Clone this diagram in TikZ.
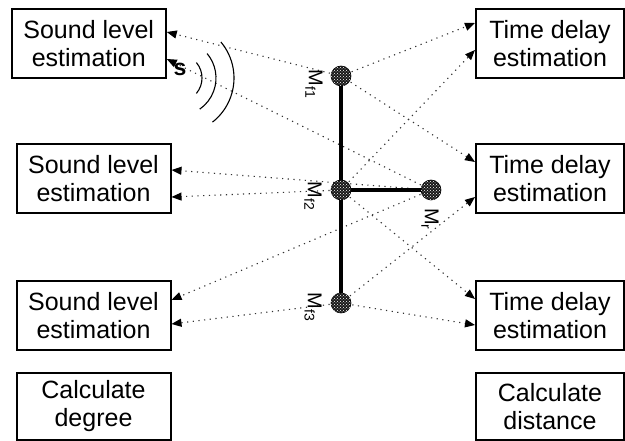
\documentclass[tikz,border=0pt]{standalone}
\usepackage{fontspec}
\setmainfont{Liberation Sans}
\usetikzlibrary{arrows.meta,patterns}
\begin{document}
\begin{tikzpicture}[x=1pt,y=-1pt,
  box/.style={draw,line width=2pt,minimum height=69pt,inner sep=0pt,align=center,
    font=\fontsize{25}{28}\selectfont},
  lbox/.style={box,minimum width=154pt},
  rbox/.style={box,minimum width=148pt},
  mic/.style={circle,draw,line width=0.6pt,minimum size=20pt,inner sep=0pt,fill=black!90,
    postaction={pattern=crosshatch dots,pattern color=white}},
  sig/.style={draw=black!80,line width=1.1pt,dash pattern=on 1.2pt off 4.5pt,
    -{Triangle[length=10pt,width=8pt,black]}},
  bar/.style={line width=4.5pt},
  wave/.style={line width=1.1pt},
  miclabel/.style={rotate=-90,inner sep=0pt,font=\fontsize{20}{20}\selectfont}
]
\useasboundingbox (0,0) rectangle (625,441);
% boxes
\node[lbox] (sl1) at (88.75,43.5) {Sound level\\estimation};
\node[lbox] (sl2) at (93.5,179) {Sound level\\estimation};
\node[lbox] (sl3) at (93.5,316) {Sound level\\estimation};
\node[lbox,minimum height=66pt] (cdeg) at (93.5,406.5) {Calculate\\degree};
\node[rbox] (td1) at (550,43.5) {Time delay\\estimation};
\node[rbox] (td2) at (550,179) {Time delay\\estimation};
\node[rbox] (td3) at (550,316) {Time delay\\estimation};
\node[rbox,minimum height=66pt] (cdist) at (550,406.5) {Calculate\\distance};
% microphones (positions)
\coordinate (mf1c) at (341,76);
\coordinate (mf2c) at (341,190);
\coordinate (mrc) at (431,190);
\coordinate (mf3c) at (341,303);
% signal lines
\draw[sig] (mf1c) -- (sl1.east |- 0,32);
\draw[sig] (mrc) -- (sl1.east |- 0,59);
\draw[sig] (mrc) -- (sl2.east |- 0,170);
\draw[sig] (mf2c) -- (sl2.east |- 0,197);
\draw[sig] (mrc) -- (sl3.east |- 0,300);
\draw[sig] (mf3c) -- (sl3.east |- 0,324);
\draw[sig] (mf1c) -- (td1.west |- 0,23);
\draw[sig] (mf2c) -- (td1.west |- 0,50);
\draw[sig] (mf1c) -- (td2.west |- 0,162);
\draw[sig] (mf3c) -- (td2.west |- 0,197);
\draw[sig] (mf2c) -- (td3.west |- 0,299);
\draw[sig] (mf3c) -- (td3.west |- 0,325);
% array bars
\draw[bar] (mf1c) -- (mf3c);
\draw[bar] (mf2c) -- (mrc);
% mics
\node[mic] (mf1) at (mf1c) {};
\node[mic] (mf2) at (mf2c) {};
\node[mic] (mr) at (mrc) {};
\node[mic] (mf3) at (mf3c) {};
% mic labels
\node[miclabel] (lf1) at (314,84) {M{\fontsize{14}{14}\selectfont\raisebox{-0.45ex}{f1}}};
\node[miclabel] (lf2) at (313,196) {M{\fontsize{14}{14}\selectfont\raisebox{-0.45ex}{f2}}};
\node[miclabel] (lf3) at (313,307) {M{\fontsize{14}{14}\selectfont\raisebox{-0.45ex}{f3}}};
\node[miclabel] (lr) at (430,219) {M{\fontsize{14}{14}\selectfont\raisebox{-0.45ex}{r}}};
% sound source
\node[inner sep=0pt,font=\fontsize{23}{23}\selectfont\bfseries] (src) at (180,69) {s};
\coordinate (wc) at (178,78);
\draw[wave] (wc) ++(40:24pt) arc[start angle=40,end angle=-40,radius=24pt];
\draw[wave] (wc) ++(40:38pt) arc[start angle=40,end angle=-55,radius=38pt];
\draw[wave] (wc) ++(40:56pt) arc[start angle=40,end angle=-52,radius=56pt];
\end{tikzpicture}
\end{document}
